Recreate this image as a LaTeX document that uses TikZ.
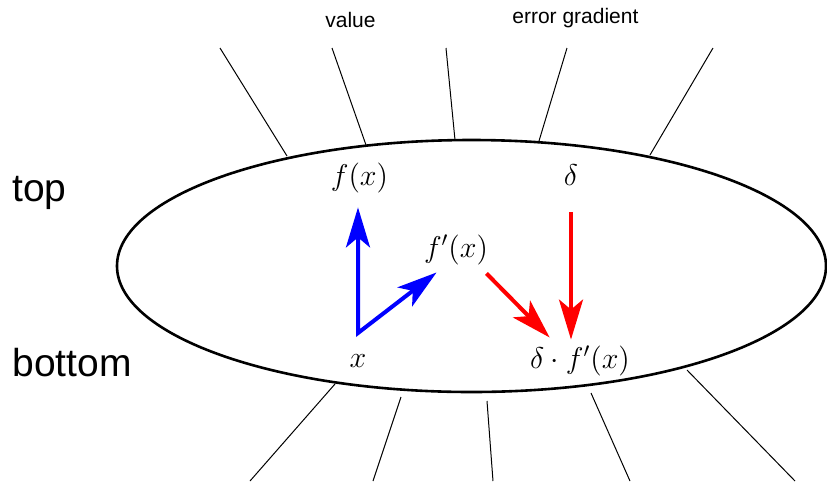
\RequirePackage{fix-cm}
\documentclass[tikz,border=0pt]{standalone}
\usepackage{fontspec}
\newfontfamily\labelsans{Liberation Sans}
\usetikzlibrary{arrows.meta}

\begin{document}
\begin{tikzpicture}[x=0.5pt,y=-0.5pt,
    >={Stealth[length=20pt,width=12pt,inset=5pt]},
    mathlabel/.style={inner sep=0pt, anchor=base, font=\fontsize{15}{18}\selectfont},
    sidelabel/.style={anchor=base west, inner sep=0pt, font=\labelsans\fontsize{19.5}{22}\selectfont},
    toplabel/.style={anchor=base west, inner sep=0pt, font=\labelsans\fontsize{10.5}{12}\selectfont},
    spoke/.style={line width=0.5pt},
    bluearrow/.style={<->, blue, line width=2pt},
    redarrow/.style={->, red, line width=2pt}]
    % Canvas in pixels of the 827x484 frame, y pointing down.
    \useasboundingbox (0,0) rectangle (827,484);

    % The unit and its connections above and below.
    \draw[line width=1.3pt] (471.5,266) ellipse [x radius=354.5, y radius=126];
    \foreach \xa/\ya/\xb/\yb in {220/48/287/156, 332/48/366/145, 446/48/455/140,
                                 567/48/539/141, 713/48/650/155} {
      \draw[spoke] (\xa,\ya) -- (\xb,\yb);
    }
    \foreach \xa/\ya/\xb/\yb in {335/384/250/481, 401/397/373/481, 487/401/493/481,
                                 591/393/630/481, 687/370/795/481} {
      \draw[spoke] (\xa,\ya) -- (\xb,\yb);
    }

    \node[toplabel] (value) at (325,27) {value};
    \node[toplabel] (error) at (512,23) {error gradient};
    \node[sidelabel] (top) at (12,201) {top};
    \node[sidelabel] (bottom) at (12,376) {bottom};

    % Quantities inside the unit.
    \node[mathlabel] (fx) at (359.5,185) {$f(x)$};
    \node[mathlabel] (delta) at (571,185) {$\delta$};
    \node[mathlabel] (fpx) at (456,257) {$f'(x)$};
    \node[mathlabel] (x) at (358,367) {$x$};
    \node[mathlabel] (dfpx) at (580,368) {$\delta\cdot f'(x)$};
    \coordinate (corner) at (358,333);

    % Forward pass in blue, backward pass in red.
    \draw[bluearrow, shorten <=7.25pt, shorten >=6.2pt] (fx.south -| corner) -- (corner) -- (fpx.238);
    \draw[redarrow, shorten <=6pt, shorten >=5.3pt] (fpx.-35) -- (dfpx.146);
    \draw[redarrow, shorten <=13.5pt, shorten >=2.75pt] (delta.south) -- (delta.south |- dfpx.north);
\end{tikzpicture}
\end{document}
